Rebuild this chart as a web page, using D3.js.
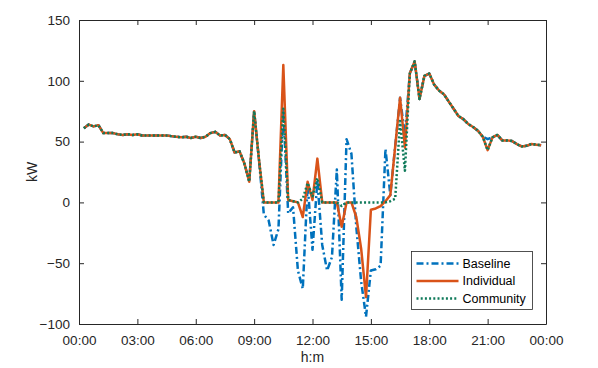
<!DOCTYPE html>
<html>
<head>
<meta charset="utf-8">
<script src="https://cdn.jsdelivr.net/npm/d3@7"></script>
<style>
  body { margin: 0; background: #fff; }
  svg { font-family: "Liberation Sans", Arial, sans-serif; }
  .axis text { font-size: 13.5px; fill: #262626; }
  .axis line, .axis path { stroke: #262626; }
</style>
</head>
<body>
<div id="container"></div>
<script>
// power profile over one day, 15 minute steps starting 00:15

// quarter hour index of each sample (1 = 00:15 ... 95 = 23:45)
var steps = d3.range(1, 96);

var xTicks = [0, 3, 6, 9, 12, 15, 18, 21, 24];
var yTicks = [-100, -50, 0, 50, 100, 150];

var baseline = [61, 64, 62.5, 63.5, 57, 57, 57, 56, 55.5, 56, 55.5, 56, 55, 55, 55, 55, 55, 55, 54.5, 54,
  53.5, 54, 53, 54, 53, 54, 57, 58, 55, 55.5, 52, 41, 42, 32, 17, 75,
  35, -10, -15, -35, -22, 77, -9, -4, -56, -71, 15, -39, 18, -35, -56, -45, 27, -80, 52, 40, -20, -65, -94,
  -56, -55, -52, 44, 6, 46, 86, 55, 106, 116, 85, 104, 106, 97, 92, 89, 83, 77, 71, 68.5, 64.5, 62, 59, 54,
  52, 53.5, 55.5, 51, 51, 50.5, 48, 46, 46.5, 48, 47.5, 47];

var individual = [61, 64, 62.5, 63.5, 57, 57, 57, 56, 55.5, 56, 55.5, 56, 55, 55, 55, 55, 55, 55, 54.5, 54,
  53.5, 54, 53, 54, 53, 54, 57, 58, 55, 55.5, 52, 41, 42, 32, 17, 75,
  35, 0, 0, 0, 0, 113, 2, 1, 0, -12, 17, 2, 36, 0, 0, 0, 0, -20, 0, 0, -12, -38, -78,
  -6, -5, -3, 1, 6, 46, 86, 45, 106, 116, 85, 104, 106, 97, 92, 89, 83, 77, 71, 68.5, 64.5, 62, 59, 54,
  43, 53.5, 55.5, 51, 51, 50.5, 48, 46, 46.5, 48, 47.5, 47];

var community = [61, 64, 62.5, 63.5, 57, 57, 57, 56, 55.5, 56, 55.5, 56, 55, 55, 55, 55, 55, 55, 54.5, 54,
  53.5, 54, 53, 54, 53, 54, 57, 58, 55, 55.5, 52, 41, 42, 32, 17, 75,
  35, 0, 0, 0, 0, 77, 2, 1, 0, 3, 16, 5, 20, 0, 0, 0, 0, -3, 0, 0, 0, 0, 0,
  0, 0, 0, 0, 1, 3, 67, 26, 106, 116, 85, 104, 106, 97, 92, 89, 83, 77, 71, 68.5, 64.5, 62, 59, 54,
  43, 53.5, 55.5, 51, 51, 50.5, 48, 46, 46.5, 48, 47.5, 47];

var seriesNames = ['Baseline', 'Individual', 'Community'];
var seriesColors = ['#0072BD', '#D95319', '#0f7a5a'];
var seriesDash = ['7,3,2,3', null, '2,2.2'];

var margin = {top: 20, right: 52, bottom: 44, left: 79},
    width = 598 - margin.left - margin.right,
    height = 368 - margin.top - margin.bottom;

var svg = d3.select('#container').append('svg')
    .attr('width', 598)
    .attr('height', 368)
  .append('g')
    .attr('transform', 'translate(' + margin.left + ',' + margin.top + ')');

var x = d3.scaleLinear().domain([0, 24]).range([0, width]);
var y = d3.scaleLinear().domain([-100, 150]).range([height, 0]);

var fmt = function(h) { return (h % 24 < 10 ? '0' : '') + (h % 24) + ':00'; };

// axes with ticks pointing inward, box round the plot
svg.append('g').attr('class', 'axis')
  .attr('transform', 'translate(0,' + height + ')')
  .call(d3.axisBottom(x).tickValues(xTicks).tickFormat(fmt).tickSizeInner(-5).tickSizeOuter(0).tickPadding(11));
svg.append('g').attr('class', 'axis')
  .call(d3.axisTop(x).tickValues(xTicks).tickFormat('').tickSizeInner(-5).tickSizeOuter(0));
svg.append('g').attr('class', 'axis')
  .call(d3.axisLeft(y).tickValues(yTicks).tickSizeInner(-5).tickSizeOuter(0).tickPadding(9));
svg.append('g').attr('class', 'axis')
  .attr('transform', 'translate(' + width + ',0)')
  .call(d3.axisRight(y).tickValues(yTicks).tickFormat('').tickSizeInner(-5).tickSizeOuter(0));

svg.selectAll('.axis .domain').attr('stroke-width', 1);

// axis titles
svg.append('text')
  .attr('x', width / 2).attr('y', height + 38)
  .attr('text-anchor', 'middle')
  .style('font-size', '14px').style('fill', '#262626')
  .text('h:m');

svg.append('text')
  .attr('transform', 'translate(' + (-42) + ',' + 152 + ') rotate(-90)')
  .attr('text-anchor', 'middle')
  .style('font-size', '14px').style('fill', '#262626')
  .text('kW');

// lines
var allSeries = [baseline, individual, community];

var line = d3.line()
  .x(function(d, i) { return x(steps[i] / 4); })
  .y(function(d) { return y(d); });

allSeries.forEach(function(vals, k) {
  svg.append('path')
    .datum(vals)
    .attr('fill', 'none')
    .attr('stroke', seriesColors[k])
    .attr('stroke-width', 2.5)
    .attr('stroke-linejoin', 'round')
    .attr('stroke-dasharray', seriesDash[k])
    .attr('d', line);
});

// legend
var legend = svg.append('g').attr('transform', 'translate(' + (332.5) + ',' + (231.5) + ')');
legend.append('rect')
  .attr('width', 121).attr('height', 58)
  .attr('fill', '#fff').attr('stroke', '#262626').attr('stroke-width', 0.8);

seriesNames.forEach(function(name, k) {
  var ly = 12 + k * 17.5;
  legend.append('line')
    .attr('x1', 5).attr('x2', 47)
    .attr('y1', ly).attr('y2', ly)
    .attr('stroke', seriesColors[k])
    .attr('stroke-width', 2.5)
    .attr('stroke-dasharray', seriesDash[k]);
  legend.append('text')
    .attr('x', 51).attr('y', ly)
    .attr('dy', '0.35em')
    .style('font-size', '12.5px').style('fill', '#000')
    .text(name);
});
</script>
</body>
</html>
